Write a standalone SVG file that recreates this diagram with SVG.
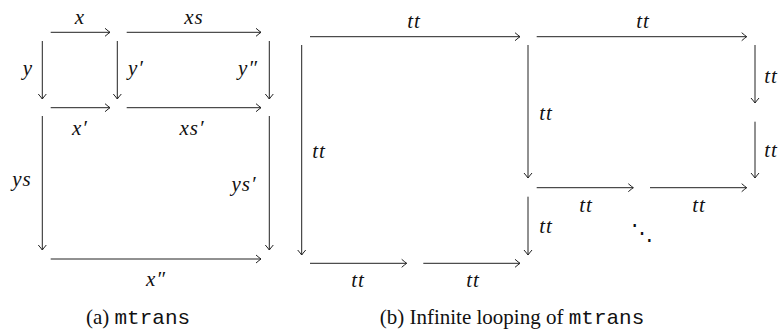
<svg xmlns="http://www.w3.org/2000/svg" width="781" height="330" viewBox="0 0 781 330">
<style>
.c line{stroke:#222;stroke-width:1;fill:none;marker-end:url(#ah)}
.m{font-family:'Liberation Serif','Times New Roman',serif;font-style:italic;font-size:21px;letter-spacing:1px;fill:#111}
.cap{font-family:'Liberation Serif','Times New Roman',serif;font-size:21px;fill:#111}
.tt{font-family:'Liberation Mono','DejaVu Sans Mono',monospace;font-style:normal}
.d{font-family:'DejaVu Serif',serif;font-size:22px;fill:#111}
</style>
<defs>
<marker id="ah" markerUnits="userSpaceOnUse" markerWidth="12" markerHeight="12" viewBox="-8 -6 10 12" refX="0" refY="0" orient="auto">
<path d="M-5,-4 Q-1.5,-1 0,0 Q-1.5,1 -5,4" fill="none" stroke="#222" stroke-width="1"/>
</marker>
</defs>
<g id="connectors" class="c">
<line x1="50.7" y1="32.3" x2="110" y2="32.3"/>
<line x1="126.7" y1="32.3" x2="261" y2="32.3"/>
<line x1="42.3" y1="41" x2="42.3" y2="99"/>
<line x1="117.3" y1="41" x2="117.3" y2="99"/>
<line x1="269.3" y1="41" x2="269.3" y2="99"/>
<line x1="50.7" y1="107.7" x2="110" y2="107.7"/>
<line x1="126.7" y1="107.7" x2="261" y2="107.7"/>
<line x1="42.3" y1="116" x2="42.3" y2="250"/>
<line x1="269.3" y1="116" x2="269.3" y2="250"/>
<line x1="50.7" y1="259" x2="261" y2="259"/>
<line x1="310" y1="36.7" x2="520" y2="36.7"/>
<line x1="536.7" y1="36.7" x2="746.7" y2="36.7"/>
<line x1="301.7" y1="45" x2="301.7" y2="255"/>
<line x1="310" y1="263.3" x2="406.7" y2="263.3"/>
<line x1="423.3" y1="263.3" x2="520" y2="263.3"/>
<line x1="528" y1="45" x2="528" y2="178"/>
<line x1="528" y1="196.7" x2="528" y2="255"/>
<line x1="755" y1="45" x2="755" y2="103"/>
<line x1="755" y1="121.7" x2="755" y2="178"/>
<line x1="536.7" y1="187.7" x2="633.3" y2="187.7"/>
<line x1="650" y1="187.7" x2="746.7" y2="187.7"/>
</g>
<g id="labels-a">
<text class="m" x="80" y="24" text-anchor="middle">x</text>
<text class="m" x="194" y="24" text-anchor="middle">xs</text>
<text class="m" x="28" y="75" text-anchor="middle">y</text>
<text class="m" x="136" y="75" text-anchor="middle">y′</text>
<text class="m" x="248" y="75" text-anchor="middle">y″</text>
<text class="m" x="80" y="135" text-anchor="middle">x′</text>
<text class="m" x="192" y="135" text-anchor="middle">xs′</text>
<text class="m" x="22" y="186" text-anchor="middle">ys</text>
<text class="m" x="244" y="191" text-anchor="middle">ys′</text>
<text class="m" x="156" y="286" text-anchor="middle">x″</text>
<text class="cap" x="138" y="324" text-anchor="middle">(a) <tspan class="tt">mtrans</tspan></text>
</g>
<g id="labels-b">
<text class="m" x="414" y="28" text-anchor="middle">tt</text>
<text class="m" x="643" y="28" text-anchor="middle">tt</text>
<text class="m" x="319" y="158" text-anchor="middle">tt</text>
<text class="m" x="358" y="287" text-anchor="middle">tt</text>
<text class="m" x="473" y="287" text-anchor="middle">tt</text>
<text class="m" x="546" y="120" text-anchor="middle">tt</text>
<text class="m" x="546" y="233" text-anchor="middle">tt</text>
<text class="m" x="771" y="83" text-anchor="middle">tt</text>
<text class="m" x="771" y="157" text-anchor="middle">tt</text>
<text class="m" x="586" y="212" text-anchor="middle">tt</text>
<text class="m" x="699" y="212" text-anchor="middle">tt</text>
<text class="d" x="642" y="240" text-anchor="middle">⋱</text>
<text class="cap" x="512" y="324" text-anchor="middle">(b) Infinite looping of <tspan class="tt">mtrans</tspan></text>
</g>
</svg>
